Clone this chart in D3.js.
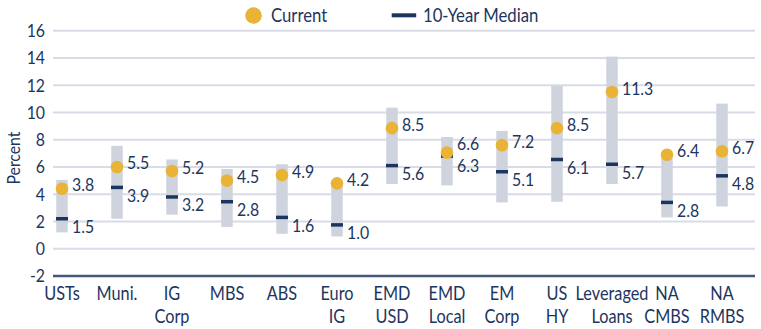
<!DOCTYPE html>
<html>
<head>
<meta charset="utf-8">
<script src="https://cdn.jsdelivr.net/npm/d3@7"></script>
<style>
  body { margin: 0; background: #fff; }
  svg text { font-family: "Lato", "Open Sans", sans-serif; fill: #1d355e; }
</style>
</head>
<body>
<div id="chart"></div>
<script>
// Catégories (saut de ligne = deuxième ligne du libellé)
const categories = ["USTs", "Muni.", "IG\nCorp", "MBS", "ABS", "Euro\nIG", "EMD\nUSD", "EMD\nLocal", "EM\nCorp", "US\nHY", "Leveraged\nLoans", "NA\nCMBS", "NA\nRMBS"];

// Valeurs affichées
const currentLabels = ["3.8", "5.5", "5.2", "4.5", "4.9", "4.2", "8.5", "6.6", "7.2", "8.5", "11.3", "6.4", "6.7"];
const medianLabels = ["1.5", "3.9", "3.2", "2.8", "1.6", "1.0", "5.6", "6.3", "5.1", "6.1", "5.7", "2.8", "4.8"];

// Valeurs tracées
const currentValues = [4.4, 6.0, 5.7, 5.0, 5.4, 4.8, 8.85, 7.05, 7.6, 8.85, 11.5, 6.9, 7.15];
const medianValues = [2.2, 4.5, 3.8, 3.45, 2.3, 1.75, 6.1, 6.8, 5.65, 6.55, 6.2, 3.4, 5.35];
const rangeLow = [1.2, 2.2, 2.5, 1.6, 1.1, 0.9, 4.75, 4.65, 3.4, 3.45, 4.75, 2.3, 3.1];
const rangeHigh = [5.05, 7.55, 6.55, 5.85, 6.2, 4.8, 10.35, 8.2, 8.65, 11.95, 14.1, 6.7, 10.65];

const yTicks = [-2, 0, 2, 4, 6, 8, 10, 12, 14, 16];

const width = 761, height = 329;
const gold = "#e9b336", navy = "#1d355e", band = "#cfd3de", grid = "#d9dce6";
const narrow = 0.88; // police condensée simulée

const svg = d3.select("#chart").append("svg")
    .attr("width", width)
    .attr("height", height);

const x = d3.scalePoint().domain(categories).range([62, 722]);
const y = d3.scaleLinear().domain([-2, 16]).range([276, 30.7]);

// Petit utilitaire pour un texte condensé
function addText(parent, px, py, str, size, anchor) {
    return parent.append("text")
        .attr("transform", "translate(" + px + "," + py + ") scale(" + narrow + ",1)")
        .attr("text-anchor", anchor || "start")
        .style("font-size", size + "px")
        .text(str);
}

// Lignes de grille
svg.selectAll(".grid")
    .data(yTicks.filter(d => d !== -2))
    .enter().append("line")
    .attr("x1", 53).attr("x2", 755)
    .attr("y1", d => y(d)).attr("y2", d => y(d))
    .attr("stroke", grid).attr("stroke-width", 2);

// Libellés de l'axe des y
yTicks.forEach(t => {
    addText(svg, 45, y(t), String(t), 18, "end").attr("dy", "0.36em");
});

// Axe des x
svg.append("line")
    .attr("x1", 53).attr("x2", 755)
    .attr("y1", y(-2)).attr("y2", y(-2))
    .attr("stroke", "#46587a").attr("stroke-width", 2.5);

// Libellés des catégories, une ligne par élément texte
categories.forEach(c => {
    c.split("\n").forEach((line, i) => {
        addText(svg, x(c), 299.5 + i * 23, line, 18.5, "middle");
    });
});

// Titre de l'axe
svg.append("text")
    .attr("transform", "translate(20,158) rotate(-90) scale(" + narrow + ",1)")
    .attr("text-anchor", "middle")
    .style("font-size", "18px")
    .text("Percent");

// Barres de plage
svg.selectAll(".range")
    .data(categories)
    .enter().append("rect")
    .attr("x", d => x(d) - 5.75)
    .attr("width", 11.5)
    .attr("y", (d, i) => y(rangeHigh[i]))
    .attr("height", (d, i) => y(rangeLow[i]) - y(rangeHigh[i]))
    .attr("fill", band);

// Médianes
svg.selectAll(".median")
    .data(categories)
    .enter().append("rect")
    .attr("x", d => x(d) - 6)
    .attr("width", 12)
    .attr("y", (d, i) => y(medianValues[i]) - 1.75)
    .attr("height", 3.5)
    .attr("fill", navy);

// Points actuels
svg.selectAll(".current")
    .data(categories)
    .enter().append("circle")
    .attr("cx", d => x(d))
    .attr("cy", (d, i) => y(currentValues[i]))
    .attr("r", 6.3)
    .attr("fill", gold);

// Étiquettes de valeurs (écartées si trop proches)
categories.forEach((c, i) => {
    let cy = y(currentValues[i]) - 4;
    let my = y(medianValues[i]) + 8;
    if (my - cy < 22) {
        const mid = (cy + my) / 2 - 1.5;
        cy = mid - 11;
        my = mid + 11;
    }
    addText(svg, x(c) + 10, cy, currentLabels[i], 18).attr("dy", "0.36em");
    addText(svg, x(c) + 10, my, medianLabels[i], 18).attr("dy", "0.36em");
});

// Légende
const legend = svg.append("g");
legend.append("circle")
    .attr("cx", 253.5).attr("cy", 15.5).attr("r", 8.3)
    .attr("fill", gold);
addText(legend, 271, 15.5, "Current", 19).attr("dy", "0.36em");
legend.append("rect")
    .attr("x", 391.7).attr("y", 13.3).attr("width", 24.5).attr("height", 4)
    .attr("fill", navy);
addText(legend, 423, 15.5, "10-Year Median", 19).attr("dy", "0.36em");
</script>
</body>
</html>
